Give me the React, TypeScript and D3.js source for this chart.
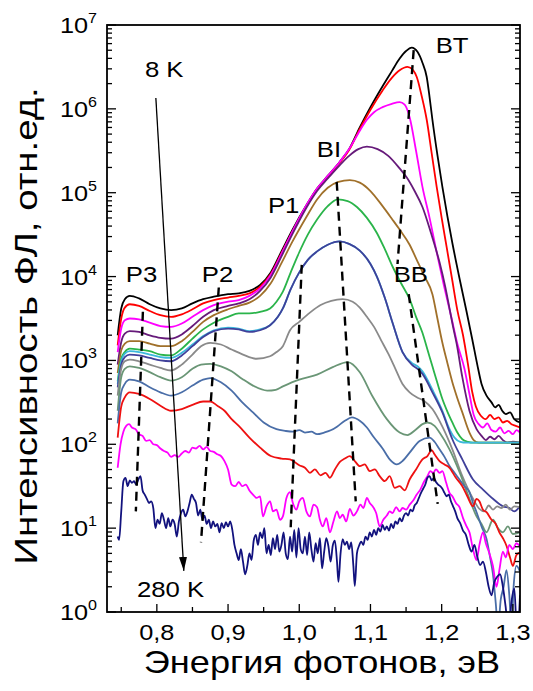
import React from "react";
import * as d3 from "d3";

const FONT = "'Liberation Sans', Arial, sans-serif";
const W = 533, H = 691;
const plot = { left: 107, right: 520, top: 25, bottom: 612 };

const xDomain = [0.73, 1.31];
const yDomain = [1, 1e7];
const xTickLabels = ["0,8", "0,9", "1,0", "1,1", "1,2", "1,3"];
const yTickExponents = [0, 1, 2, 3, 4, 5, 6, 7];

// each point: [photon energy, eV ; log10 of PL intensity]
const blackLine = [[0.745,3.3],[0.75,3.62],[0.755,3.73],[0.762,3.77],[0.775,3.74],[0.79,3.67],[0.805,3.62],[0.82,3.6],[0.835,3.62],[0.85,3.68],[0.865,3.73],[0.88,3.76],[0.9,3.79],[0.915,3.8],[0.93,3.83],[0.945,3.9],[0.96,4.05],[0.975,4.3],[0.99,4.55],[1.01,4.85],[1.025,5.05],[1.04,5.2],[1.057,5.37],[1.07,5.52],[1.085,5.78],[1.1,6.02],[1.117,6.27],[1.13,6.45],[1.141,6.6],[1.15,6.69],[1.158,6.73],[1.166,6.68],[1.173,6.55],[1.179,6.38],[1.183,6.14],[1.187,5.87],[1.194,5.45],[1.201,5.07],[1.208,4.72],[1.215,4.4],[1.225,3.98],[1.235,3.58],[1.243,3.25],[1.25,2.95],[1.256,2.72],[1.263,2.58],[1.27,2.5],[1.275,2.44],[1.28,2.47],[1.285,2.4],[1.29,2.36],[1.296,2.38],[1.302,2.3],[1.31,2.26]];
const redLine = [[0.745,3.18],[0.75,3.5],[0.755,3.63],[0.762,3.67],[0.775,3.65],[0.79,3.59],[0.805,3.54],[0.82,3.52],[0.835,3.55],[0.85,3.61],[0.865,3.68],[0.88,3.72],[0.9,3.75],[0.915,3.77],[0.93,3.8],[0.945,3.88],[0.96,4.03],[0.975,4.28],[0.99,4.53],[1.01,4.84],[1.025,5.04],[1.04,5.19],[1.057,5.36],[1.07,5.51],[1.085,5.76],[1.1,5.99],[1.117,6.22],[1.13,6.37],[1.141,6.46],[1.152,6.5],[1.16,6.46],[1.165,6.38],[1.172,6.15],[1.179,5.87],[1.186,5.47],[1.193,5.07],[1.2,4.7],[1.207,4.35],[1.215,3.95],[1.222,3.6],[1.23,3.3],[1.237,2.95],[1.243,2.62],[1.248,2.45],[1.255,2.34],[1.262,2.3],[1.268,2.35],[1.274,2.3],[1.28,2.32],[1.286,2.26],[1.292,2.28],[1.298,2.24],[1.304,2.22],[1.31,2.2]];
const magentaLine = [[0.745,3.1],[0.75,3.38],[0.755,3.48],[0.762,3.5],[0.775,3.49],[0.79,3.45],[0.805,3.41],[0.82,3.4],[0.835,3.44],[0.85,3.52],[0.865,3.6],[0.88,3.66],[0.9,3.7],[0.915,3.72],[0.93,3.77],[0.945,3.86],[0.96,4.02],[0.975,4.27],[0.99,4.53],[1.01,4.85],[1.025,5.05],[1.04,5.2],[1.057,5.37],[1.07,5.52],[1.085,5.74],[1.095,5.87],[1.105,5.96],[1.117,6.02],[1.13,6.06],[1.141,6.08],[1.148,6.05],[1.155,5.9],[1.164,5.5],[1.173,5.07],[1.183,4.7],[1.193,4.29],[1.203,3.9],[1.214,3.5],[1.222,3.2],[1.232,2.9],[1.239,2.6],[1.245,2.35],[1.252,2.24],[1.258,2.2],[1.264,2.25],[1.27,2.17],[1.276,2.15],[1.282,2.2],[1.288,2.13],[1.294,2.16],[1.3,2.12],[1.305,2.17],[1.31,2.14]];
const purpleLine = [[0.745,2.95],[0.75,3.22],[0.755,3.32],[0.762,3.35],[0.775,3.34],[0.79,3.3],[0.805,3.27],[0.82,3.26],[0.835,3.31],[0.85,3.41],[0.865,3.52],[0.88,3.6],[0.9,3.65],[0.915,3.68],[0.93,3.73],[0.945,3.83],[0.96,3.99],[0.975,4.24],[0.99,4.5],[1.01,4.82],[1.025,5.02],[1.04,5.17],[1.057,5.33],[1.07,5.44],[1.083,5.52],[1.095,5.55],[1.11,5.52],[1.125,5.44],[1.14,5.3],[1.151,5.18],[1.162,5.02],[1.173,4.83],[1.185,4.52],[1.197,4.17],[1.205,3.88],[1.211,3.62],[1.216,3.4],[1.221,3.2],[1.229,2.8],[1.239,2.4],[1.249,2.18],[1.256,2.1],[1.262,2.05],[1.268,2.09],[1.274,2.06],[1.28,2.1],[1.286,2.05],[1.292,2.02],[1.3,2.03],[1.31,2.02]];
const brownLine = [[0.745,2.85],[0.75,3.12],[0.755,3.2],[0.762,3.23],[0.775,3.23],[0.79,3.2],[0.805,3.17],[0.82,3.17],[0.835,3.23],[0.85,3.34],[0.865,3.46],[0.88,3.54],[0.9,3.61],[0.915,3.65],[0.93,3.69],[0.945,3.77],[0.96,3.92],[0.975,4.16],[0.99,4.41],[1.01,4.71],[1.025,4.92],[1.04,5.06],[1.055,5.13],[1.071,5.15],[1.085,5.12],[1.1,5.02],[1.117,4.84],[1.13,4.69],[1.141,4.56],[1.155,4.38],[1.165,4.2],[1.176,4.0],[1.187,3.79],[1.194,3.5],[1.201,3.21],[1.208,2.97],[1.215,2.74],[1.222,2.55],[1.229,2.38],[1.239,2.14],[1.245,2.05],[1.252,2.02],[1.31,2.02]];
const greenLine = [[0.745,2.75],[0.75,3.02],[0.755,3.1],[0.762,3.14],[0.775,3.13],[0.79,3.11],[0.805,3.07],[0.82,3.06],[0.835,3.14],[0.85,3.26],[0.865,3.37],[0.88,3.45],[0.9,3.52],[0.915,3.56],[0.93,3.56],[0.945,3.58],[0.959,3.62],[0.968,3.7],[0.977,3.82],[0.988,4.05],[1.0,4.29],[1.012,4.5],[1.025,4.68],[1.04,4.84],[1.054,4.92],[1.068,4.9],[1.081,4.83],[1.095,4.7],[1.109,4.52],[1.12,4.33],[1.131,4.12],[1.143,3.92],[1.155,3.73],[1.164,3.52],[1.173,3.33],[1.18,3.13],[1.187,2.93],[1.194,2.73],[1.201,2.54],[1.208,2.39],[1.215,2.26],[1.222,2.14],[1.229,2.06],[1.237,2.03],[1.244,2.02],[1.31,2.02]];
const cyanLine = [[0.745,2.72],[0.75,2.99],[0.755,3.08],[0.762,3.11],[0.775,3.1],[0.79,3.07],[0.805,3.04],[0.82,3.03],[0.835,3.09],[0.85,3.19],[0.865,3.29],[0.88,3.36],[0.9,3.39],[0.915,3.38],[0.93,3.35],[0.945,3.37],[0.959,3.42],[0.97,3.52],[0.977,3.62],[0.988,3.85],[1.0,4.05],[1.012,4.2],[1.025,4.3],[1.04,4.38],[1.057,4.42],[1.07,4.39],[1.085,4.31],[1.1,4.15],[1.109,4.0],[1.12,3.75],[1.131,3.45],[1.145,3.1],[1.158,2.97],[1.166,2.93],[1.173,2.87],[1.187,2.65],[1.201,2.4],[1.21,2.2],[1.218,2.08],[1.226,2.03],[1.235,2.02],[1.31,2.02]];
const indigoLine = [[0.745,2.68],[0.75,2.95],[0.755,3.04],[0.762,3.07],[0.775,3.06],[0.79,3.03],[0.805,3.0],[0.82,2.99],[0.835,3.06],[0.85,3.17],[0.865,3.28],[0.88,3.35],[0.9,3.38],[0.915,3.37],[0.93,3.34],[0.945,3.36],[0.959,3.42],[0.97,3.52],[0.977,3.62],[0.988,3.85],[1.0,4.05],[1.012,4.2],[1.025,4.3],[1.04,4.38],[1.057,4.42],[1.07,4.39],[1.085,4.31],[1.1,4.15],[1.109,4.0],[1.12,3.75],[1.131,3.45],[1.145,3.1],[1.158,2.95],[1.166,2.9],[1.173,2.84],[1.187,2.62],[1.201,2.38],[1.215,2.06],[1.229,1.82],[1.244,1.58],[1.258,1.46],[1.272,1.35],[1.286,1.26],[1.295,1.24],[1.302,1.2],[1.31,1.26]];
const greyLine = [[0.745,2.58],[0.75,2.9],[0.755,2.99],[0.762,3.01],[0.775,2.99],[0.79,2.95],[0.805,2.91],[0.82,2.88],[0.835,2.95],[0.85,3.07],[0.862,3.17],[0.875,3.21],[0.89,3.19],[0.905,3.13],[0.921,3.07],[0.94,3.02],[0.959,3.05],[0.968,3.1],[0.977,3.17],[0.987,3.36],[1.0,3.46],[1.015,3.57],[1.03,3.66],[1.045,3.71],[1.061,3.73],[1.075,3.7],[1.085,3.63],[1.095,3.52],[1.105,3.4],[1.115,3.24],[1.125,3.08],[1.135,2.9],[1.145,2.72],[1.155,2.62],[1.165,2.56],[1.175,2.52],[1.187,2.42],[1.201,2.21],[1.215,1.94],[1.229,1.62],[1.244,1.35],[1.253,1.23],[1.26,1.2],[1.266,1.27],[1.272,1.22],[1.278,1.26],[1.284,1.24],[1.29,1.28],[1.296,1.22],[1.302,1.26],[1.31,1.25]];
const sageLine = [[0.745,2.4],[0.75,2.8],[0.755,2.9],[0.762,2.93],[0.775,2.91],[0.79,2.86],[0.805,2.8],[0.82,2.76],[0.835,2.8],[0.85,2.9],[0.862,2.95],[0.875,2.96],[0.89,2.93],[0.905,2.87],[0.92,2.78],[0.935,2.7],[0.955,2.64],[0.967,2.65],[0.977,2.69],[1.0,2.77],[1.025,2.83],[1.047,2.92],[1.068,2.98],[1.085,2.86],[1.103,2.57],[1.123,2.3],[1.141,2.14],[1.152,2.11],[1.163,2.17],[1.173,2.24],[1.18,2.26],[1.19,2.22],[1.197,2.14],[1.211,1.94],[1.225,1.67],[1.239,1.35],[1.249,1.14],[1.256,1.05],[1.263,0.95],[1.272,1.1],[1.279,1.0],[1.286,0.95],[1.293,1.02],[1.3,0.93],[1.31,0.95]];
const steelLine = [[0.745,2.25],[0.75,2.62],[0.755,2.72],[0.762,2.77],[0.775,2.75],[0.79,2.68],[0.805,2.62],[0.82,2.58],[0.835,2.62],[0.85,2.7],[0.865,2.77],[0.875,2.79],[0.89,2.74],[0.905,2.64],[0.92,2.5],[0.935,2.38],[0.95,2.26],[0.968,2.18],[0.98,2.16],[0.991,2.15],[1.0,2.17],[1.008,2.14],[1.017,2.15],[1.025,2.12],[1.035,2.14],[1.045,2.17],[1.053,2.21],[1.064,2.28],[1.074,2.32],[1.085,2.28],[1.095,2.2],[1.105,2.08],[1.117,1.95],[1.127,1.82],[1.137,1.76],[1.145,1.8],[1.155,1.9],[1.169,2.04],[1.183,2.08],[1.19,2.03],[1.197,1.94],[1.204,1.85],[1.211,1.74],[1.218,1.66],[1.225,1.58],[1.232,1.5],[1.239,1.43],[1.244,1.3],[1.249,1.19],[1.256,1.02],[1.263,0.87],[1.268,0.65],[1.272,0.45],[1.276,0.1],[1.279,-0.2],[1.283,0.15],[1.287,0.3],[1.291,0.5],[1.295,0.2],[1.298,-0.2],[1.301,0.3],[1.305,0.55],[1.31,0.48]];
const red2Line = [[0.745,2.08],[0.75,2.45],[0.755,2.56],[0.762,2.62],[0.775,2.6],[0.79,2.54],[0.805,2.46],[0.82,2.4],[0.835,2.42],[0.85,2.47],[0.865,2.51],[0.875,2.51],[0.885,2.46],[0.895,2.4],[0.905,2.3],[0.915,2.22],[0.93,2.08],[0.945,1.96],[0.96,1.86],[0.975,1.83],[0.987,1.82],[1.0,1.75],[1.008,1.72],[1.015,1.66],[1.022,1.7],[1.03,1.63],[1.037,1.66],[1.043,1.6],[1.05,1.7],[1.057,1.79],[1.064,1.83],[1.071,1.86],[1.078,1.8],[1.085,1.74],[1.092,1.76],[1.099,1.68],[1.106,1.7],[1.113,1.62],[1.12,1.56],[1.127,1.62],[1.134,1.48],[1.141,1.5],[1.148,1.45],[1.155,1.58],[1.164,1.7],[1.173,1.82],[1.18,1.86],[1.186,1.93],[1.19,1.88],[1.197,1.8],[1.204,1.76],[1.211,1.72],[1.22,1.6],[1.229,1.5],[1.236,1.38],[1.244,1.26],[1.249,1.35],[1.253,1.32],[1.258,1.22],[1.263,1.19],[1.27,1.1],[1.276,1.05],[1.281,0.95],[1.286,0.88],[1.291,0.79],[1.296,0.65],[1.3,0.55],[1.305,0.68],[1.31,0.71]];
const magenta2Line = [[0.745,1.72],[0.749,2.0],[0.753,2.15],[0.757,2.22],[0.761,2.24],[0.765,2.2],[0.77,2.18],[0.775,2.12],[0.78,2.1],[0.785,2.04],[0.79,2.05],[0.795,2.0],[0.8,1.99],[0.805,1.95],[0.81,1.92],[0.815,1.9],[0.82,1.85],[0.825,1.87],[0.83,1.85],[0.835,1.89],[0.84,1.92],[0.845,1.9],[0.85,1.96],[0.855,1.95],[0.86,1.98],[0.865,1.94],[0.87,1.97],[0.875,1.92],[0.88,1.91],[0.885,1.88],[0.89,1.86],[0.895,1.8],[0.9,1.7],[0.905,1.52],[0.91,1.5],[0.915,1.55],[0.92,1.5],[0.925,1.52],[0.93,1.45],[0.935,1.4],[0.94,1.36],[0.945,1.38],[0.949,1.14],[0.954,1.26],[0.959,1.32],[0.963,1.2],[0.968,1.22],[0.973,1.1],[0.977,1.14],[0.982,1.36],[0.987,1.43],[0.991,1.3],[0.996,1.22],[1.0,1.32],[1.005,1.36],[1.01,1.2],[1.015,1.14],[1.02,1.28],[1.025,1.25],[1.029,1.1],[1.033,1.02],[1.038,1.12],[1.043,0.95],[1.048,1.08],[1.053,1.2],[1.057,1.12],[1.061,1.16],[1.066,1.08],[1.071,1.23],[1.076,1.15],[1.081,1.2],[1.086,1.28],[1.09,1.24],[1.095,1.36],[1.099,1.3],[1.103,1.26],[1.108,1.18],[1.113,1.02],[1.118,1.1],[1.123,1.15],[1.127,1.2],[1.131,1.18],[1.136,1.25],[1.141,1.2],[1.145,1.24],[1.15,1.22],[1.155,1.28],[1.16,1.33],[1.165,1.4],[1.17,1.46],[1.175,1.55],[1.18,1.62],[1.184,1.68],[1.188,1.66],[1.192,1.7],[1.197,1.66],[1.201,1.68],[1.206,1.55],[1.211,1.42],[1.215,1.38],[1.22,1.3],[1.225,1.25],[1.23,1.12],[1.235,1.02],[1.239,0.95],[1.244,0.75],[1.249,0.62],[1.253,0.8],[1.258,0.95],[1.262,0.82],[1.267,0.7],[1.272,0.55],[1.277,0.3],[1.281,0.5],[1.286,0.72],[1.29,0.65],[1.295,0.8],[1.3,0.75],[1.305,0.82],[1.31,0.78]];
const navyLine = [[0.745,0.9],[0.747,0.86],[0.75,1.2],[0.753,1.56],[0.756,1.6],[0.759,1.5],[0.762,1.57],[0.765,1.54],[0.768,1.56],[0.771,1.52],[0.774,1.58],[0.777,1.62],[0.78,1.45],[0.783,1.4],[0.786,1.35],[0.789,1.3],[0.792,1.32],[0.795,1.24],[0.798,1.0],[0.801,1.1],[0.804,1.05],[0.807,1.18],[0.81,1.1],[0.813,1.0],[0.816,1.12],[0.819,1.02],[0.822,1.1],[0.825,1.05],[0.828,0.9],[0.831,1.08],[0.834,1.18],[0.837,1.22],[0.84,1.14],[0.843,1.2],[0.846,1.3],[0.849,1.4],[0.852,1.35],[0.855,1.3],[0.858,1.15],[0.861,1.22],[0.864,1.1],[0.867,1.15],[0.87,1.05],[0.873,1.1],[0.876,1.0],[0.879,1.08],[0.882,1.02],[0.885,1.05],[0.888,0.95],[0.891,1.06],[0.894,1.0],[0.897,1.07],[0.9,1.02],[0.903,1.08],[0.906,0.98],[0.909,0.8],[0.912,0.7],[0.915,0.62],[0.918,0.75],[0.921,0.6],[0.924,0.45],[0.927,0.55],[0.93,0.7],[0.933,0.62],[0.936,0.85],[0.939,0.92],[0.942,0.8],[0.945,0.95],[0.948,0.88],[0.951,1.0],[0.954,0.7],[0.957,0.8],[0.96,0.68],[0.963,0.88],[0.966,0.75],[0.969,0.92],[0.972,0.72],[0.975,0.8],[0.978,0.95],[0.981,0.7],[0.984,0.63],[0.987,0.9],[0.99,0.72],[0.993,0.98],[0.996,0.65],[0.999,1.0],[1.002,0.75],[1.005,0.7],[1.008,0.9],[1.011,0.68],[1.014,0.95],[1.017,0.75],[1.02,0.6],[1.023,0.82],[1.026,0.7],[1.029,0.88],[1.032,0.52],[1.035,0.72],[1.038,0.88],[1.041,0.78],[1.044,0.6],[1.047,0.79],[1.05,0.85],[1.053,0.6],[1.055,0.36],[1.058,0.7],[1.061,0.87],[1.064,0.8],[1.067,0.84],[1.07,0.75],[1.073,0.83],[1.076,0.55],[1.078,0.31],[1.081,0.7],[1.084,0.79],[1.087,0.84],[1.09,0.8],[1.093,0.9],[1.096,0.86],[1.099,0.95],[1.102,0.9],[1.105,0.98],[1.108,0.92],[1.111,1.0],[1.114,0.96],[1.117,1.04],[1.12,0.98],[1.123,1.02],[1.126,0.97],[1.129,1.05],[1.132,1.0],[1.135,1.08],[1.138,1.05],[1.141,1.12],[1.144,1.08],[1.147,1.15],[1.15,1.18],[1.153,1.15],[1.156,1.22],[1.159,1.2],[1.162,1.27],[1.165,1.3],[1.168,1.36],[1.171,1.42],[1.174,1.47],[1.177,1.52],[1.18,1.6],[1.183,1.62],[1.186,1.57],[1.189,1.6],[1.192,1.55],[1.195,1.52],[1.198,1.5],[1.201,1.47],[1.204,1.42],[1.207,1.38],[1.21,1.4],[1.213,1.32],[1.216,1.26],[1.219,1.2],[1.222,1.12],[1.226,1.06],[1.23,0.97],[1.234,0.92],[1.238,0.8],[1.242,0.72],[1.246,0.8],[1.25,0.66],[1.254,0.56],[1.258,0.6],[1.262,0.48],[1.266,0.3],[1.27,0.2],[1.274,0.36],[1.278,0.42],[1.282,0.45],[1.286,0.3],[1.29,0.05],[1.294,-0.25],[1.298,0.12],[1.302,0.28],[1.306,-0.3],[1.31,0.2]];

// drawn in this order, 8 K first, 280 K last
const seriesList = [
  { data: blackLine, color: "#000000" },
  { data: redLine, color: "#ff0000" },
  { data: magentaLine, color: "#ff00ff" },
  { data: purpleLine, color: "#661a7a" },
  { data: brownLine, color: "#a0702a" },
  { data: greenLine, color: "#2ab44a" },
  { data: cyanLine, color: "#3cb8dc" },
  { data: indigoLine, color: "#40409a" },
  { data: greyLine, color: "#8a8a8a" },
  { data: sageLine, color: "#6a9676" },
  { data: steelLine, color: "#4a6ea8" },
  { data: red2Line, color: "#ee1111" },
  { data: magenta2Line, color: "#ff00ff" },
  { data: navyLine, color: "#12127e" },
];

// dashed peak guides, [energy, log10 I] end points
const peakGuides = [
  [[0.7804, 3.58], [0.7705, 1.2]],
  [[0.887, 3.87], [0.862, 0.83]],
  [[1.0035, 4.14], [0.988, 1.01]],
  [[1.0526, 5.13], [1.0793, 1.32]],
  [[1.1607, 6.7], [1.138, 4.15]],
  [[1.1537, 3.79], [1.1944, 1.29]],
];

const peakLabels = [
  ["P3", 0.7565, 3.93],
  ["P2", 0.863, 3.93],
  ["P1", 0.956, 4.76],
  ["BI", 1.0245, 5.43],
  ["BT", 1.1916, 6.67],
  ["BB", 1.1326, 3.94],
  ["8 K", 0.7832, 6.38],
  ["280 K", 0.772, 0.18],
];

const tempArrow = [[0.7986, 6.13], [0.8379, 0.49]];

const Txt = ({ x, y, size, sx = 1.15, anchor = "start", rotate = 0, children }: any) => (
  <text
    transform={`translate(${x},${y})${rotate ? ` rotate(${rotate})` : ""} scale(${sx},1)`}
    fontFamily={FONT}
    fontSize={size}
    textAnchor={anchor}
    fill="#000"
  >
    {children}
  </text>
);

export default function App() {
  const x = d3.scaleLinear().domain(xDomain).range([plot.left, plot.right]);
  const y = d3.scaleLog().domain(yDomain).range([plot.bottom, plot.top]);
  const line = d3
    .line<number[]>()
    .x(d => x(d[0]))
    .y(d => y(10 ** d[1]))
    .curve(d3.curveMonotoneX);
  const straight = d3
    .line<number[]>()
    .x(d => x(d[0]))
    .y(d => y(10 ** d[1]));

  const yTicks = y.ticks();
  const isMajorY = (v: number) => Math.abs(Math.log10(v) - Math.round(Math.log10(v))) < 1e-6;
  const xTicks = x.ticks(12);
  const isMajorX = (v: number) => Math.abs(v * 10 - Math.round(v * 10)) < 1e-6;
  const xMajor = xTicks.filter(isMajorX);

  return (
    <svg width={W} height={H} style={{ position: "absolute", left: 0, top: 0, background: "#fff" }}>
      <defs>
        <clipPath id="plotClip">
          <rect x={plot.left} y={plot.top} width={plot.right - plot.left} height={plot.bottom - plot.top} />
        </clipPath>
        <marker id="arrowHead" viewBox="0 0 14 8" refX={14} refY={4} markerWidth={14} markerHeight={8}
          markerUnits="userSpaceOnUse" orient="auto">
          <path d="M0,0 L14,4 L0,8 z" fill="#000" />
        </marker>
      </defs>

      <g clipPath="url(#plotClip)">
        {seriesList.map((s, i) => (
          <path key={i} d={line(s.data) || ""} fill="none" stroke={s.color} strokeWidth={1.8} strokeLinejoin="round" />
        ))}
        {peakGuides.map((g, i) => (
          <path key={i} d={straight(g) || ""} fill="none" stroke="#000" strokeWidth={2.4} strokeDasharray="9,6" />
        ))}
      </g>

      <path d={straight(tempArrow) || ""} stroke="#000" strokeWidth={1.3} fill="none" markerEnd="url(#arrowHead)" />

      {peakLabels.map(([t, e, l]) => (
        <Txt key={t as string} x={x(e as number)} y={y(10 ** (l as number))} size={23} sx={1.12}>{t}</Txt>
      ))}

      {/* frame */}
      <rect x={plot.left} y={plot.top} width={plot.right - plot.left} height={plot.bottom - plot.top}
        fill="none" stroke="#000" strokeWidth={1.8} />

      {/* y ticks, left and right, pointing inward */}
      {yTicks.map((v, i) => {
        const len = isMajorY(v) ? 9 : 5;
        const yy = y(v);
        return (
          <g key={i}>
            <line x1={plot.left} x2={plot.left + len} y1={yy} y2={yy} stroke="#000" strokeWidth={1.3} />
            <line x1={plot.right} x2={plot.right - len} y1={yy} y2={yy} stroke="#000" strokeWidth={1.3} />
          </g>
        );
      })}

      {/* x ticks */}
      {xTicks.map((v, i) => {
        const len = isMajorX(v) ? 8 : 5;
        return <line key={i} x1={x(v)} x2={x(v)} y1={plot.bottom} y2={plot.bottom - len} stroke="#000" strokeWidth={1.3} />;
      })}

      {xMajor.map((v, i) => (
        <Txt key={i} x={x(v)} y={640} size={22} anchor="middle">{xTickLabels[i]}</Txt>
      ))}

      {yTickExponents.map(n => (
        <Txt key={n} x={97} y={y(10 ** n) + 8} size={22} anchor="end">
          10<tspan dy={-10} fontSize={14}>{n}</tspan>
        </Txt>
      ))}

      <Txt x={322} y={673} size={32} sx={1.13} anchor="middle">Энергия фотонов, эВ</Txt>
      <Txt x={37} y={326} size={32} sx={1.2} anchor="middle" rotate={-90}>Интенсивность ФЛ, отн.ед.</Txt>
    </svg>
  );
}
